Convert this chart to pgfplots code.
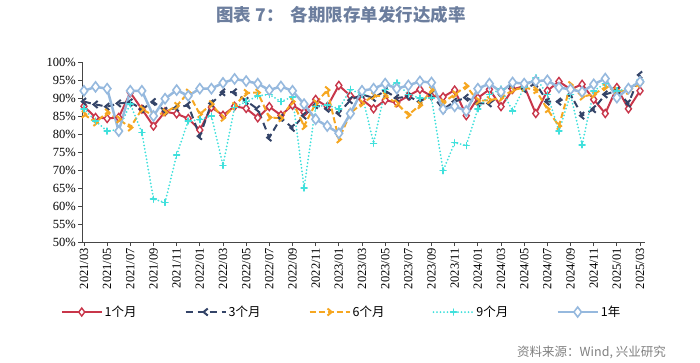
\documentclass[border=0pt]{standalone}
\usepackage{pgfplots}
\pgfplotsset{compat=1.18}
\usepackage{pgfplotstable}
\usepackage{fontspec}
\setmainfont{Liberation Serif}
\newfontfamily\cjk{Noto Sans CJK SC}
\definecolor{cred}{RGB}{200,54,74}
\definecolor{cnavy}{RGB}{52,68,104}
\definecolor{corange}{RGB}{246,167,33}
\definecolor{ccyan}{RGB}{64,224,220}
\definecolor{clblue}{RGB}{150,185,222}
\definecolor{ctitle}{RGB}{108,126,158}
\definecolor{caxis}{RGB}{70,70,70}
\pgfdeclareplotmark{chev}{%
  \pgfpathmoveto{\pgfqpoint{0.6\pgfplotmarksize}{\pgfplotmarksize}}%
  \pgfpathlineto{\pgfqpoint{-0.6\pgfplotmarksize}{0pt}}%
  \pgfpathlineto{\pgfqpoint{0.6\pgfplotmarksize}{-\pgfplotmarksize}}%
  \pgfusepathqstroke}
\pgfplotstableread{
x r1 r3 r6 r9 y1
0 87.7 89.0 85.5 87.0 92.0
1 84.6 88.2 83.2 83.6 93.1
2 84.3 87.6 86.0 80.8 92.6
3 84.6 88.5 84.1 81.3 80.8
4 91.5 88.8 81.8 88.3 92.0
5 86.9 86.9 86.9 80.4 92.0
6 82.2 88.9 85.1 61.9 85.0
7 86.2 86.4 86.0 61.0 89.8
8 85.6 87.3 87.8 74.2 92.2
9 84.3 88.0 91.5 83.6 90.6
10 81.1 79.4 85.5 84.0 92.6
11 87.4 88.5 88.3 85.0 92.6
12 85.2 91.6 84.5 71.3 94.2
13 87.7 91.6 87.8 87.4 95.3
14 87.1 89.2 91.4 89.0 94.7
15 84.5 86.9 91.5 90.6 94.0
16 87.6 79.0 84.6 91.0 92.2
17 85.2 84.5 84.4 89.0 93.2
18 88.0 81.7 89.0 90.3 92.0
19 86.0 85.1 82.2 65.0 88.3
20 89.6 88.0 88.5 87.6 84.1
21 87.6 87.0 92.2 88.0 82.2
22 93.5 85.8 78.5 87.0 80.2
23 90.6 89.4 85.8 92.4 85.7
24 89.6 91.0 88.5 91.0 92.0
25 87.0 90.0 90.6 77.4 92.6
26 89.4 92.0 90.6 92.4 94.0
27 88.7 90.0 88.5 94.2 92.6
28 90.6 90.4 85.3 91.0 93.5
29 92.4 89.0 88.0 90.0 94.6
30 90.5 91.0 92.2 90.0 94.3
31 90.3 86.9 88.7 69.8 86.9
32 92.2 89.0 91.0 77.6 87.7
33 85.1 90.1 93.3 76.8 86.4
34 90.0 88.5 89.2 87.0 92.6
35 92.4 88.5 89.4 91.0 94.0
36 87.6 91.0 90.0 92.5 91.7
37 92.4 93.3 92.2 86.4 94.3
38 93.3 92.5 92.9 93.0 94.0
39 85.7 94.0 92.2 95.6 94.7
40 92.0 89.0 86.9 91.0 94.9
41 94.6 89.0 82.2 80.8 92.9
42 92.4 91.0 93.6 91.0 92.4
43 93.8 85.1 90.4 77.0 91.7
44 89.6 86.9 91.0 92.0 93.8
45 85.7 91.0 93.0 94.0 95.4
46 92.9 92.0 92.0 92.0 90.1
47 87.0 88.5 92.0 92.5 92.6
48 92.0 96.4 94.0 95.0 94.5
}\datatable
\begin{document}
\begin{tikzpicture}[x=1bp,y=1bp]
\path[use as bounding box] (0,0) rectangle (700,362);
\node[font={\cjk\bfseries\fontsize{17.5bp}{20bp}\selectfont}, text=ctitle] at (341,347) {图表 7：\hspace{0.4em}各期限存单发行达成率};
\node[font={\cjk\fontsize{12.5bp}{14bp}\selectfont}, text=gray, anchor=east, inner sep=0pt] at (666,10) {资料来源：Wind, 兴业研究};
\begin{axis}[
  at={(82bp,120bp)}, anchor=south west,
  scale only axis, width=563bp, height=180bp,
  xmin=-0.17, xmax=48.43, ymin=50, ymax=100,
  axis lines*=left,
  axis line style={caxis, line width=1pt},
  tick style={caxis, line width=0.8pt},
  tick align=outside, major tick length=4bp,
  ytick={50,55,...,100},
  yticklabels={50\%,55\%,60\%,65\%,70\%,75\%,80\%,85\%,90\%,95\%,100\%},
  xtick={0,2,...,48},
  xticklabels={2021/03,2021/05,2021/07,2021/09,2021/11,2022/01,2022/03,2022/05,2022/07,2022/09,2022/11,2023/01,2023/03,2023/05,2023/07,2023/09,2023/11,2024/01,2024/03,2024/05,2024/07,2024/09,2024/11,2025/01,2025/03},
  x tick label style={rotate=90, anchor=east, inner sep=2bp},
  y tick label style={inner sep=2bp},
  tick label style={font=\fontsize{12.5bp}{14bp}\selectfont, text=black},
  /pgf/number format/assume math mode=true,
  clip=false,
  legend columns=5,
  legend style={at={(0.461,-0.389)}, anchor=center, draw=none, fill=none,
    font={\cjk\fontsize{12.5bp}{14bp}\selectfont},
    /tikz/every even column/.append style={column sep=46bp},
    inner sep=0pt},
  legend cell align=left,
  legend image code/.code={\draw[mark repeat=2,mark phase=2,#1] plot coordinates {(0bp,0bp) (20bp,0bp) (40bp,0bp)};},
]
\addplot[cred, line width=2pt, mark=diamond*, mark size=4bp, mark options={solid, fill=white, draw=cred, line width=1.4pt}] table[x=x,y=r1] {\datatable};
\addlegendentry{1个月}
\addplot[cnavy, line width=2pt, dash pattern=on 7bp off 5bp, mark=chev, mark size=3.5bp, mark options={solid, line width=2pt}] table[x=x,y=r3] {\datatable};
\addlegendentry{3个月}
\addplot[corange, line width=2pt, dash pattern=on 6bp off 3bp, mark=chev, mark size=3.5bp, mark options={solid, rotate=180, line width=2pt}] table[x=x,y=r6] {\datatable};
\addlegendentry{6个月}
\addplot[ccyan, line width=2pt, line cap=round, dash pattern=on 0pt off 3.5bp, mark=+, mark size=3bp, mark options={solid, line width=1.5pt}] table[x=x,y=r9] {\datatable};
\addlegendentry{9个月}
\addplot[clblue, line width=2.5pt, mark=diamond*, mark size=5bp, mark options={solid, fill=white, draw=clblue, line width=1.6pt}] table[x=x,y=y1] {\datatable};
\addlegendentry{1年}
\end{axis}
\end{tikzpicture}
\end{document}
